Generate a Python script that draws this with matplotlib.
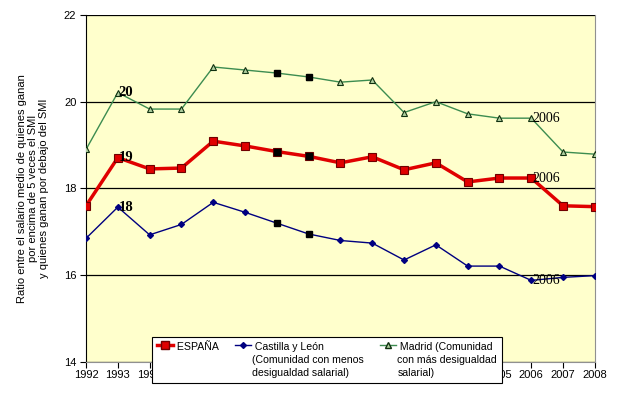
import matplotlib
matplotlib.use("Agg")
import matplotlib.pyplot as plt
from matplotlib.lines import Line2D

years = list(range(1992, 2009))
espana = [17.60, 18.71, 18.45, 18.47, 19.09, 18.98, 18.85, 18.74, 18.59, 18.73,
          18.43, 18.59, 18.15, 18.24, 18.24, 17.60, 17.58]
castilla = [16.85, 17.57, 16.93, 17.17, 17.68, 17.45, 17.20, 16.95, 16.80, 16.74,
            16.35, 16.70, 16.21, 16.21, 15.88, 15.95, 15.99]
madrid = [18.90, 20.21, 19.83, 19.83, 20.80, 20.73, 20.66, 20.57, 20.45, 20.50,
          19.75, 20.00, 19.72, 19.62, 19.62, 18.84, 18.79]
selected_years = [1998, 1999]
label_years = {1993: ("20", "19", "18"), 2006: ("2006", "2006", "2006")}

plt.rcParams['font.family'] = ['Liberation Sans', 'DejaVu Sans']
fig = plt.figure(figsize=(6.19, 3.93), dpi=100)
ax = fig.add_axes([0.139, 0.079, 0.822, 0.883])
ax.set_facecolor('#FFFFCC')

red = '#e00000'
navy = '#000080'
green = '#3c8c50'

ax.plot(years, madrid, color=green, lw=1.0, marker='^', ms=4, mfc='#b0d0a0',
        mec='#103010', mew=0.8, zorder=3)
ax.plot(years, espana, color=red, lw=2.5, marker='s', ms=6, mfc=red,
        mec='#700000', mew=0.8, zorder=4)
ax.plot(years, castilla, color=navy, lw=1.0, marker='D', ms=3, mfc=navy,
        mec=navy, zorder=3)

# selected points (black squares)
for series in (madrid, espana, castilla):
    sx = [y for y in years if y in selected_years]
    sy = [series[years.index(y)] for y in sx]
    ax.plot(sx, sy, ls='none', marker='s', ms=5, mfc='black', mec='black', zorder=5)

# data labels
for yr, labs in label_years.items():
    i = years.index(yr)
    bold = yr == 1993
    for series, lab in zip((madrid, espana, castilla), labs):
        ax.annotate(lab, (yr, series[i]), xytext=(0.5, 0), textcoords='offset points',
                    ha='left', va='center', fontsize=10.5 if bold else 10,
                    fontweight='bold' if bold else 'normal',
                    family='Liberation Serif', zorder=6)

ax.set_xlim(1992, 2008)
ax.set_ylim(14, 22)
ax.set_xticks(years)
ax.set_xticklabels([str(y) for y in years])
ax.set_yticks([14, 16, 18, 20, 22])
ax.yaxis.grid(True, color='black', lw=0.9)
ax.set_axisbelow(True)
ax.tick_params(axis='both', direction='out', length=4, width=0.8, labelsize=8,
               colors='black')
ax.tick_params(axis='x', pad=2)
ax.tick_params(axis='y', pad=3)
for s in ('right', 'bottom'):
    ax.spines[s].set_color('#909090')
ax.spines['top'].set_visible(False)
ax.spines['left'].set_color('black')

ax.set_ylabel('Ratio entre el salario medio de quienes ganan\npor encima de 5 veces el SMI\n'
              'y quienes ganan por debajo del SMI', fontsize=8, linespacing=1.1,
              labelpad=11)

handles = [
    Line2D([], [], color=red, lw=2.5, marker='s', ms=6, mfc=red, mec='#700000'),
    Line2D([], [], color=navy, lw=1.0, marker='D', ms=3, mfc=navy, mec=navy),
    Line2D([], [], color=green, lw=1.0, marker='^', ms=4, mfc='#b0d0a0', mec='#103010'),
]
labels = [' ESPAÑA', ' Castilla y León\n(Comunidad con menos\ndesigualdad salarial)',
          ' Madrid (Comunidad\ncon más desigualdad\nsalarial)']
leg = ax.legend(handles, labels, ncol=3, loc='upper left',
                bbox_to_anchor=(0.130, 0.072),
                fontsize=7.6, frameon=True, fancybox=False, edgecolor='black',
                framealpha=1, handlelength=1.5, handletextpad=0.15,
                borderpad=0.45, borderaxespad=0, columnspacing=1.5, labelspacing=0.1)
for t in leg.get_texts():
    t.set_linespacing(1.4)
leg.get_frame().set_linewidth(0.8)
leg.set_zorder(10)
hb = leg._legend_handle_box
hb.align = 'top'
for col in hb.get_children():
    col.align = 'left'
    for row in col.get_children():
        row.align = 'top'

fig.savefig('out.png', dpi=100, facecolor='white')
